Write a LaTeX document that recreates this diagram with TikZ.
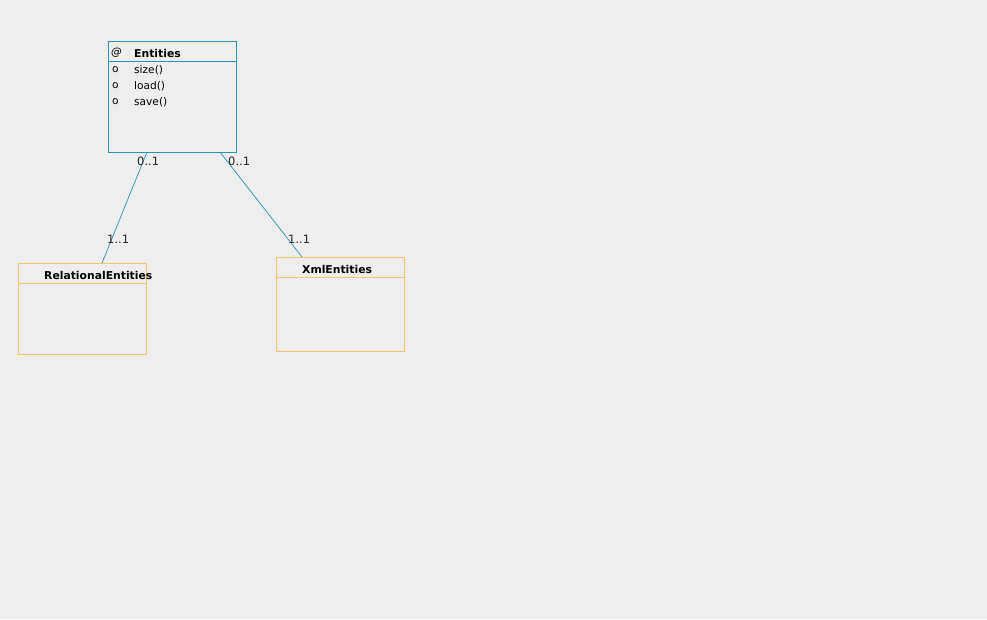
\documentclass[tikz,border=0pt]{standalone}
\usepackage{fontspec}
\setmainfont{DejaVu Sans}
\definecolor{bg}{HTML}{EEEEEE}
\definecolor{umlblue}{HTML}{2A93B5}
\definecolor{umlorange}{HTML}{F5C66E}
\begin{document}
\begin{tikzpicture}[x=1pt,y=-1pt,
  box/.style={draw,rectangle,inner sep=0pt,anchor=north west,line width=0.8pt},
  txt/.style={inner sep=0pt,anchor=west,font=\fontsize{10.6}{12}\selectfont,text=black},
  ttl/.style={inner sep=0pt,anchor=west,font=\fontsize{10.8}{12}\selectfont\bfseries,text=black},
  lbl/.style={inner sep=0pt,anchor=west,font=\fontsize{11.5}{12}\selectfont,text=black!85},
  conn/.style={draw=umlblue,line width=0.7pt}]
\fill[bg] (0,0) rectangle (987,619);
\useasboundingbox (0,0) rectangle (987,619);
% Entities
\node[box,draw=umlblue,minimum width=128pt,minimum height=111pt] (ent) at (108,41) {};
\draw[umlblue,line width=0.8pt] (108,61) -- (236,61);
\node[txt] (entat) at (111,53) {\itshape @};
\node[ttl] (enttitle) at (134,53) {Entities};
\node[txt] (o1) at (112,70) {o};
\node[txt] (m1) at (134,70) {size()};
\node[txt] (o2) at (112,86) {o};
\node[txt] (m2) at (134,86) {load()};
\node[txt] (o3) at (112,102) {o};
\node[txt] (m3) at (134,102) {save()};
% RelationalEntities
\node[box,draw=umlorange,minimum width=128pt,minimum height=91pt] (rel) at (18,263) {};
\draw[umlorange,line width=0.8pt] (18,283) -- (146,283);
\node[ttl] (reltitle) at (44,275) {RelationalEntities};
% XmlEntities
\node[box,draw=umlorange,minimum width=128pt,minimum height=94pt] (xml) at (276,257) {};
\draw[umlorange,line width=0.8pt] (276,277) -- (404,277);
\node[ttl] (xmltitle) at (302,269) {XmlEntities};
% connectors
\coordinate (a1) at (147,152);
\coordinate (b1) at (102,263);
\coordinate (a2) at (220,152);
\coordinate (b2) at (302,257);
\draw[conn] (a1) -- (b1);
\draw[conn] (a2) -- (b2);
\node[lbl] (l1) at (137,161) {0..1};
\node[lbl] (l2) at (107,239) {1..1};
\node[lbl] (l3) at (228,161) {0..1};
\node[lbl] (l4) at (288,239) {1..1};
\end{tikzpicture}
\end{document}
